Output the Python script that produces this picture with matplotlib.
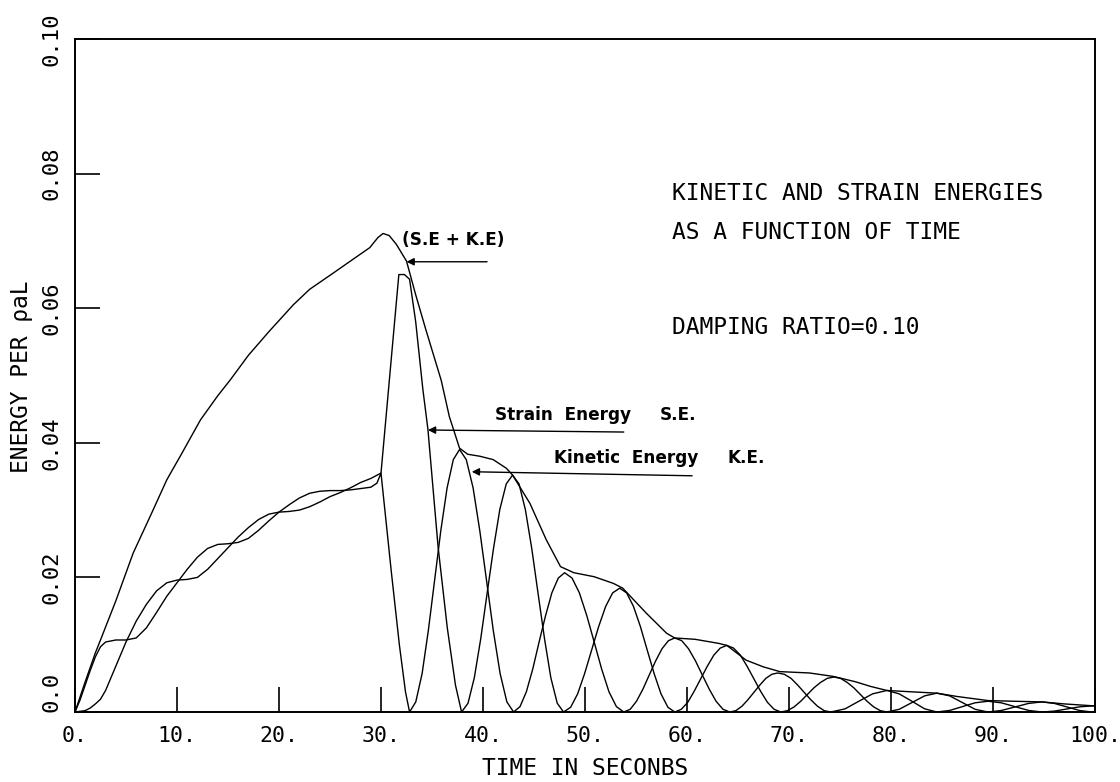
import matplotlib
matplotlib.use('Agg')
import matplotlib.pyplot as plt

# energies vs time, damping ratio 0.10
t_total = [0, 1, 2, 2.5, 4, 5.7, 7.5, 9, 10.5, 12.3,
           14, 15.2, 17, 19, 21.4, 23, 25.3, 27, 28.9, 29.7,
           30.2, 30.8, 31.5, 32.5, 33.4, 34.4, 35.9, 36.7, 37.7, 38.5,
           39.7, 41, 42.3, 42.9, 44.6, 46.2, 47.6, 48.9, 50.9, 52.8,
           53.7, 56, 58, 58.8, 60.8, 63.1, 63.9, 65.8, 67.5, 69.1,
           72, 74.3, 76.5, 78, 79.6, 82, 84.5, 86.5, 89.5, 92,
           94.8, 97, 100]
total = [0, 0.0045, 0.0088, 0.0107, 0.0165, 0.0236, 0.0295, 0.0345, 0.0385, 0.0434,
         0.0470, 0.0493, 0.0530, 0.0565, 0.0605, 0.0628, 0.0652, 0.0670, 0.0690, 0.0705,
         0.0711, 0.0708, 0.0695, 0.0670, 0.0620, 0.0568, 0.0493, 0.0439, 0.0392, 0.0383,
         0.0380, 0.0375, 0.0362, 0.0352, 0.0310, 0.0256, 0.0216, 0.0207, 0.0201, 0.0191,
         0.0184, 0.0147, 0.0117, 0.0110, 0.0108, 0.0102, 0.0099, 0.0077, 0.0067, 0.0060,
         0.0058, 0.0053, 0.0045, 0.0038, 0.0032, 0.0030, 0.0028, 0.0023, 0.0017, 0.0016,
         0.0015, 0.0012, 0.0009]

t_ke = [0, 0.5, 1, 1.5, 2, 2.5, 3, 4, 5, 6,
        7, 8, 9, 10, 11, 12, 13, 14, 15, 16,
        17, 18, 19, 20, 21, 22, 23, 24, 25, 26,
        27, 28, 29, 29.6, 30, 31, 31.8, 32.4, 32.8, 33.41,
        34.03, 34.64, 35.25, 35.86, 36.48, 37.09, 37.7, 38.36, 39.03, 39.69,
        40.35, 41.01, 41.68, 42.34, 43.0, 43.63, 44.25, 44.88, 45.5, 46.13,
        46.75, 47.38, 48.0, 48.73, 49.45, 50.18, 50.9, 51.63, 52.35, 53.08,
        53.8, 54.43, 55.05, 55.68, 56.3, 56.93, 57.55, 58.18, 58.8, 59.48,
        60.15, 60.83, 61.5, 62.18, 62.85, 63.53, 64.2, 64.79, 65.38, 65.96,
        66.55, 67.14, 67.73, 68.31, 68.9, 69.55, 70.2, 70.85, 71.5, 72.15,
        72.8, 73.45, 74.1, 75.5, 76.85, 78.2, 79.6, 80.8, 82.05, 83.3,
        84.5, 85.75, 87.0, 88.25, 89.5, 90.8, 92.15, 93.5, 94.8, 96.0,
        97.25, 98.5, 99.7, 100]
ke = [0, 0.0018, 0.0040, 0.0062, 0.0082, 0.0097, 0.0104, 0.0107, 0.0107, 0.0110,
      0.0125, 0.0148, 0.0172, 0.0192, 0.0212, 0.0230, 0.0243, 0.0249, 0.0250, 0.0252,
      0.0258, 0.0270, 0.0284, 0.0297, 0.0308, 0.0318, 0.0325, 0.0328, 0.0329, 0.0329,
      0.0330, 0.0332, 0.0334, 0.0340, 0.0355, 0.0210, 0.0100, 0.0030, 0.0, 0.0015,
      0.0057, 0.0121, 0.0195, 0.0269, 0.0333, 0.0375, 0.0390, 0.0375, 0.0333, 0.0269,
      0.0195, 0.0121, 0.0057, 0.0015, 0.0, 0.0008, 0.0030, 0.0064, 0.0104, 0.0143,
      0.0177, 0.0199, 0.0207, 0.0199, 0.0177, 0.0143, 0.0104, 0.0064, 0.0030, 0.0008,
      0.0, 0.0004, 0.0016, 0.0034, 0.0055, 0.0076, 0.0094, 0.0106, 0.0110, 0.0106,
      0.0094, 0.0076, 0.0055, 0.0034, 0.0016, 0.0004, 0.0, 0.0002, 0.00085, 0.0018,
      0.0029, 0.0040, 0.0050, 0.0056, 0.0058, 0.0056, 0.0050, 0.0040, 0.0029, 0.0018,
      0.00085, 0.0002, 0.0, 0.00047, 0.0016, 0.0027, 0.0032, 0.0027, 0.0016, 0.00047,
      0.0, 0.00023, 0.0008, 0.00137, 0.0016, 0.00137, 0.0008, 0.00023, 0.0, 0.00013,
      0.00045, 0.00077, 0.0009, 0.0009]

t_se = [0, 1, 1.5, 2, 2.5, 3, 4, 5, 6, 7,
        8, 9, 10, 11, 12, 13, 14, 15, 16, 17,
        18, 19, 20, 21, 22, 23, 24, 25, 26, 27,
        28, 29, 30, 31.75, 32.3, 32.8, 33.4, 34.1, 34.6, 35.6,
        36.5, 37.3, 37.9, 38.53, 39.15, 39.78, 40.4, 41.03, 41.65, 42.28,
        42.9, 43.53, 44.15, 44.78, 45.4, 46.03, 46.65, 47.28, 47.9, 48.59,
        49.28, 49.96, 50.65, 51.34, 52.03, 52.71, 53.4, 54.08, 54.75, 55.43,
        56.1, 56.78, 57.45, 58.13, 58.8, 59.44, 60.08, 60.71, 61.35, 61.99,
        62.63, 63.26, 63.9, 64.56, 65.23, 65.89, 66.55, 67.21, 67.88, 68.54,
        69.2, 69.85, 70.5, 71.15, 71.8, 72.45, 73.1, 73.75, 74.4, 75.05,
        75.7, 76.35, 77.0, 77.65, 78.3, 78.95, 79.6, 80.8, 82.05, 83.3,
        84.5, 85.75, 87.0, 88.25, 89.5, 90.8, 92.15, 93.5, 94.8, 96.0,
        97.25, 98.5, 99.7, 100]
se = [0, 0.0002, 0.0006, 0.0012, 0.0019, 0.0032, 0.0068, 0.0104, 0.0135, 0.0160,
      0.0180, 0.0192, 0.0196, 0.0197, 0.0200, 0.0212, 0.0228, 0.0244, 0.0260, 0.0274,
      0.0286, 0.0294, 0.0297, 0.0298, 0.0300, 0.0305, 0.0312, 0.0320, 0.0326, 0.0333,
      0.0341, 0.0347, 0.0355, 0.0650, 0.0650, 0.0643, 0.0580, 0.0480, 0.0420, 0.0245,
      0.0125, 0.0040, 0.0, 0.0013, 0.0051, 0.0109, 0.0176, 0.0243, 0.0301, 0.0339,
      0.0352, 0.0339, 0.0301, 0.0243, 0.0176, 0.0109, 0.0051, 0.0013, 0.0, 0.0007,
      0.0027, 0.0057, 0.0092, 0.0127, 0.0157, 0.0177, 0.0184, 0.0177, 0.0157, 0.0127,
      0.0092, 0.0057, 0.0027, 0.0007, 0.0, 0.0004, 0.00145, 0.0031, 0.00495, 0.0068,
      0.00845, 0.0095, 0.0099, 0.0095, 0.00845, 0.0068, 0.00495, 0.0031, 0.00145, 0.0004,
      0.0, 0.0002, 0.00076, 0.0016, 0.0026, 0.0036, 0.0044, 0.0050, 0.0052, 0.0050,
      0.0044, 0.0036, 0.0026, 0.0016, 0.00076, 0.0002, 0.0, 0.0004, 0.0014, 0.0024,
      0.0028, 0.0024, 0.0014, 0.0004, 0.0, 0.00022, 0.00075, 0.00128, 0.0015, 0.00128,
      0.00075, 0.00022, 0.0, 0.00005]

xticks = [0, 10, 20, 30, 40, 50, 60, 70, 80, 90, 100]
xlabels = ['0.', '10.', '20.', '30.', '40.', '50.', '60.', '70.', '80.', '90.', '100.']
yticks = [0.0, 0.02, 0.04, 0.06, 0.08, 0.10]
ylabels = ['0.0', '0.02', '0.04', '0.06', '0.08', '0.10']

plt.rcParams['font.family'] = ['DejaVu Sans Mono']
mono = 16.5
bold = dict(family='DejaVu Sans', fontweight='bold', fontsize=12.2)

fig = plt.figure(figsize=(11.2, 7.82), dpi=100)
ax = fig.add_axes([0.06696, 0.08951, 0.91072, 0.86062])

ax.plot(t_total, total, color='k', lw=1.0)
ax.plot(t_ke, ke, color='k', lw=1.0)
ax.plot(t_se, se, color='k', lw=1.0)

ax.set_xlim(0, 100)
ax.set_ylim(0, 0.10)
for s in ax.spines.values():
    s.set_linewidth(1.4)

ax.set_xticks(xticks)
ax.set_xticklabels(xlabels, fontsize=15.5)
ax.set_yticks(yticks)
ax.set_yticklabels(ylabels, fontsize=16, rotation=90, va='center')
ax.tick_params(axis='both', direction='in', length=18, width=1.2, color='k')
ax.tick_params(axis='x', pad=10)
ax.tick_params(axis='y', pad=10)
ax.get_yticklabels()[0].set_va('bottom')

ax.set_xlabel('TIME IN SECONBS', fontsize=mono, labelpad=8)
fig.text(22 / 1120, 1 - 377 / 782, 'ENERGY PER ρaL', rotation=90,
         fontsize=mono, ha='center', va='center')

ax.text(58.5, 0.0770, 'KINETIC AND STRAIN ENERGIES', fontsize=mono, va='center')
ax.text(58.5, 0.0712, 'AS A FUNCTION OF TIME', fontsize=mono, va='center')
ax.text(58.5, 0.0572, 'DAMPING RATIO=0.10', fontsize=mono, va='center')

# labelled arrows
arrow = dict(arrowstyle='-|>', color='k', lw=1.0, mutation_scale=11,
             shrinkA=0, shrinkB=0)
ax.annotate('', xy=(32.5, 0.0669), xytext=(40.4, 0.0669), arrowprops=arrow)
ax.text(32.1, 0.0702, '(S.E + K.E)', va='center', **bold)

ax.annotate('', xy=(34.6, 0.0419), xytext=(53.8, 0.0416), arrowprops=arrow)
ax.text(41.2, 0.0441, 'Strain  Energy', va='center', **bold)
ax.text(57.3, 0.0441, 'S.E.', va='center', **bold)

ax.annotate('', xy=(38.9, 0.0357), xytext=(60.5, 0.0351), arrowprops=arrow)
ax.text(47.0, 0.0377, 'Kinetic  Energy', va='center', **bold)
ax.text(64.0, 0.0377, 'K.E.', va='center', **bold)

plt.savefig('out.png', dpi=100)
